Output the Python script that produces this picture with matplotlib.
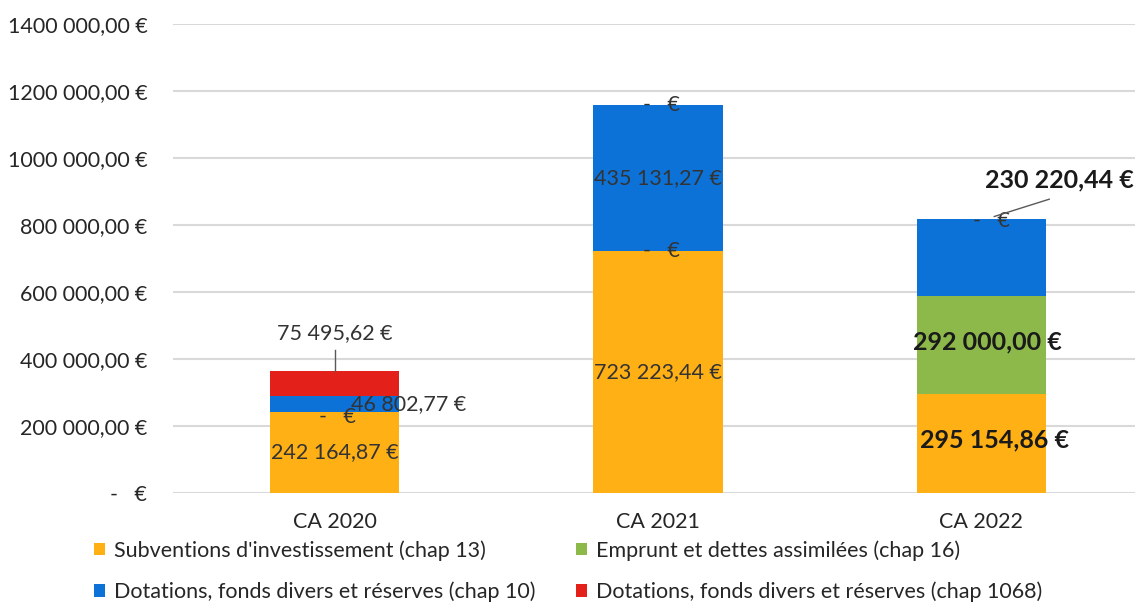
import matplotlib.pyplot as plt
import numpy as np

# data
categories = ['CA 2020', 'CA 2021', 'CA 2022']
series_names = ["Subventions d'investissement (chap 13)",
                "Emprunt et dettes assimilées (chap 16)",
                "Dotations, fonds divers et réserves (chap 10)",
                "Dotations, fonds divers et réserves (chap 1068)"]
subventions = [242164.87, 723223.44, 295154.86]
emprunt = [0.0, 0.0, 292000.00]
dotations_10 = [46802.77, 435131.27, 230220.44]
dotations_1068 = [75495.62, 0.0, 0.0]
y_ticks = [0, 200000, 400000, 600000, 800000, 1000000, 1200000, 1400000]
y_tick_labels = ['-   €', '200 000,00 €', '400 000,00 €', '600 000,00 €', '800 000,00 €',
                 '1000 000,00 €', '1200 000,00 €', '1400 000,00 €']

colors = ['#FFB014', '#8DB94B', '#0D72D8', '#E4201B']

def fmt(v):
    if v == 0:
        return '-   €'
    s = f'{v:,.2f}'.replace(',', ' ').replace('.', ',')
    return s + ' €'

plt.rcParams['font.family'] = ['Lato', 'DejaVu Sans']

fig = plt.figure(figsize=(11.35, 6.03), dpi=100)
ax = fig.add_axes([173 / 1135, 110 / 603, 970 / 1135, 469 / 603])

x = np.arange(len(categories))
all_series = [subventions, emprunt, dotations_10, dotations_1068]
bottoms = np.zeros(len(categories))
bars = []
for vals, c, name in zip(all_series, colors, series_names):
    b = ax.bar(x, vals, 0.4, bottom=bottoms, color=c, label=name, zorder=2)
    bars.append(b)
    bottoms = bottoms + np.array(vals)

ax.set_xlim(-0.5, 2.5)
ax.set_ylim(0, 1400000)
ax.set_yticks(y_ticks)
ax.set_yticklabels(y_tick_labels, fontsize=15.5, color='#262626')
ax.set_xticks(x)
ax.set_xticklabels(categories, fontsize=15.5, color='#262626')
ax.tick_params(length=0, axis='y', pad=18.5)
ax.tick_params(length=0, axis='x', pad=14)
ax.grid(axis='y', color='#D9D9D9', linewidth=1.5, zorder=0)
for sp in ax.spines.values():
    sp.set_visible(False)

txt = '#333333'
fs = 15.5
fsb = 18
cum = np.vstack([np.zeros(3), np.cumsum(all_series, axis=0)])

# CA 2020
i = 0
ax.text(i, subventions[i] / 2, fmt(subventions[i]), ha='center', va='center', fontsize=fs, color=txt, zorder=3)
ax.text(i + 0.01, cum[1][i] - 15000, fmt(emprunt[i]), ha='center', va='center', fontsize=fs, color=txt, zorder=3)
ax.text(i + 0.23, cum[2][i] + dotations_10[i] / 2, fmt(dotations_10[i]), ha='center', va='center', fontsize=fs, color=txt, zorder=3)
ax.plot([i, i], [cum[4][i], 427000], color='#595959', linewidth=1, zorder=3)
ax.text(i, 478000, fmt(dotations_1068[i]), ha='center', va='center', fontsize=fs, color=txt, zorder=3)

# CA 2021
i = 1
ax.text(i, 360000, fmt(subventions[i]), ha='center', va='center', fontsize=fs, color=txt, zorder=3)
ax.text(i + 0.01, cum[1][i], fmt(emprunt[i]), ha='center', va='center', fontsize=fs, color=txt, zorder=3)
ax.text(i, cum[2][i] + dotations_10[i] / 2, fmt(dotations_10[i]), ha='center', va='center', fontsize=fs, color=txt, zorder=3)
ax.text(i + 0.01, cum[4][i], fmt(dotations_1068[i]), ha='center', va='center', fontsize=fs, color=txt, zorder=3)

# CA 2022
i = 2
ax.text(i + 0.04, 158000, fmt(subventions[i]), ha='center', va='center', fontsize=fsb, fontweight='bold', color='#1a1a1a', zorder=3)
ax.text(i + 0.02, cum[1][i] + emprunt[i] / 2 + 10000, fmt(emprunt[i]), ha='center', va='center', fontsize=fsb, fontweight='bold', color='#1a1a1a', zorder=3)
ax.text(i + 0.03, cum[4][i] - 5000, fmt(dotations_1068[i]), ha='center', va='center', fontsize=fs, color=txt, zorder=3)
ax.plot([i + 0.04, i + 0.21], [cum[4][i] + 8000, 877000], color='#595959', linewidth=1, zorder=3)
ax.text(i + 0.24, 934000, fmt(dotations_10[i]), ha='center', va='center', fontsize=fsb, fontweight='bold', color='#1a1a1a', zorder=3)

# legend, row-wise order
order = [0, 2, 1, 3]
handles = [bars[k] for k in order]
labels = [series_names[k] for k in order]
fig.legend(handles, labels, loc='upper left', bbox_to_anchor=(75 / 1135, 1 - 521 / 603), ncol=2,
           frameon=False, fontsize=15.5, handlelength=0.5, handleheight=0.5, handletextpad=0.4,
           labelspacing=0.95, columnspacing=1.9, labelcolor='#262626')

plt.savefig('out.png', dpi=100)
